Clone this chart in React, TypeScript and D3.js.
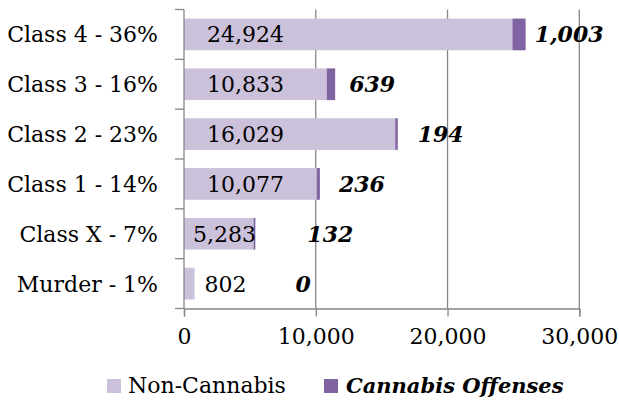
import React, { useEffect, useRef } from "react";
import * as d3 from "d3";

const categories = ["Class 4 - 36%", "Class 3 - 16%", "Class 2 - 23%", "Class 1 - 14%", "Class X - 7%", "Murder - 1%"];
const nonCannabis = [24924, 10833, 16029, 10077, 5283, 802];
const cannabis = [1003, 639, 194, 236, 132, 0];
const xTicks = [0, 10000, 20000, 30000];
const seriesNames = ["Non-Cannabis", "Cannabis Offenses"];

// hand-placed label gaps (px after the end of the stacked bar), as in the source chart
const cannabisLabelGap = [9, 14, 20, 19, 52, 101];

const LIGHT = "#ccc1da";
const DARK = "#8064a2";
const GRID = "#868686";
const FONT = "'DejaVu Serif', serif";

export default function App() {
  const ref = useRef<SVGSVGElement>(null);

  useEffect(() => {
    const width = 619;
    const height = 401;
    const margin = { top: 9.5, left: 184, bottom: 92.5, right: 40 };
    const iheight = height - margin.top - margin.bottom;

    const svg = d3.select(ref.current);
    svg.selectAll("*").remove();

    const g = svg.append("g").attr("transform", `translate(${margin.left}, ${margin.top})`);

    const x = d3.scaleLinear().domain([0, 30000]).range([0, 395.3]);
    const y = d3.scaleBand().domain(categories).range([0, iheight]).paddingInner(0.364).paddingOuter(0.182);

    // vertical gridlines
    g.selectAll("line.grid")
      .data(xTicks.slice(1))
      .enter()
      .append("line")
      .attr("x1", d => x(d))
      .attr("x2", d => x(d))
      .attr("y1", 0)
      .attr("y2", iheight)
      .attr("stroke", GRID)
      .attr("stroke-width", 1.3);

    const rows = categories.map((c, i) => ({ c, a: nonCannabis[i], b: cannabis[i], i }));

    g.selectAll("rect.nc")
      .data(rows)
      .enter()
      .append("rect")
      .attr("x", 0)
      .attr("y", d => y(d.c)!)
      .attr("width", d => x(d.a))
      .attr("height", y.bandwidth())
      .attr("fill", LIGHT);

    g.selectAll("rect.cb")
      .data(rows)
      .enter()
      .append("rect")
      .attr("x", d => x(d.a))
      .attr("y", d => y(d.c)!)
      .attr("width", d => x(d.a + d.b) - x(d.a))
      .attr("height", y.bandwidth())
      .attr("fill", DARK);

    // non-cannabis value labels
    g.selectAll("text.nc")
      .data(rows)
      .enter()
      .append("text")
      .attr("x", d => {
        const w = x(d.a);
        if (w > 100) return 23;
        if (w > 60) return 9;
        return w + 10;
      })
      .attr("y", d => y(d.c)! + y.bandwidth() / 2)
      .attr("dy", "0.36em")
      .attr("font-family", FONT)
      .attr("font-size", 22)
      .attr("fill", "#000")
      .text(d => d3.format(",")(d.a));

    // cannabis value labels
    g.selectAll("text.cb")
      .data(rows)
      .enter()
      .append("text")
      .attr("x", d => x(d.a + d.b) + cannabisLabelGap[d.i])
      .attr("y", d => y(d.c)! + y.bandwidth() / 2)
      .attr("dy", "0.36em")
      .attr("font-family", FONT)
      .attr("font-size", 22)
      .attr("font-weight", "bold")
      .attr("font-style", "italic")
      .attr("fill", "#000")
      .text(d => d3.format(",")(d.b));

    // y axis
    const yAxis = g.append("g").call(d3.axisLeft(y).tickSize(0).tickPadding(26));
    yAxis.select(".domain").remove();
    yAxis.selectAll("text").attr("font-family", FONT).attr("font-size", 22).attr("fill", "#000").attr("dy", "0.36em");

    g.append("line").attr("x1", 0).attr("x2", 0).attr("y1", 0).attr("y2", iheight).attr("stroke", GRID).attr("stroke-width", 1.3);
    g.selectAll("line.yt")
      .data(d3.range(categories.length + 1))
      .enter()
      .append("line")
      .attr("x1", -9)
      .attr("x2", 0)
      .attr("y1", i => (i * iheight) / categories.length)
      .attr("y2", i => (i * iheight) / categories.length)
      .attr("stroke", GRID)
      .attr("stroke-width", 1.3);

    // x axis
    const xAxis = g.append("g")
      .attr("transform", `translate(0, ${iheight})`)
      .call(d3.axisBottom(x).tickValues(xTicks).tickSize(8).tickPadding(12).tickFormat(d => d3.format(",")(d as number)));
    xAxis.select(".domain").attr("stroke", GRID).attr("stroke-width", 1.3);
    xAxis.selectAll("line").attr("stroke", GRID).attr("stroke-width", 1.3);
    xAxis.selectAll("text").attr("font-family", FONT).attr("font-size", 22).attr("fill", "#000");

    // legend
    const legend = svg.append("g");
    legend.append("rect").attr("x", 107).attr("y", 379).attr("width", 14).attr("height", 14).attr("fill", LIGHT);
    legend.append("text").attr("x", 128).attr("y", 393).attr("font-family", FONT).attr("font-size", 22).text(seriesNames[0]);
    legend.append("rect").attr("x", 324).attr("y", 379).attr("width", 14).attr("height", 14).attr("fill", DARK);
    legend.append("text").attr("x", 346).attr("y", 393).attr("font-family", FONT).attr("font-size", 21)
      .attr("font-weight", "bold").attr("font-style", "italic").text(seriesNames[1]);
  }, []);

  return (
    <svg ref={ref} width={619} height={401} style={{ position: "absolute", left: 0, top: 0, background: "#fff" }} />
  );
}
